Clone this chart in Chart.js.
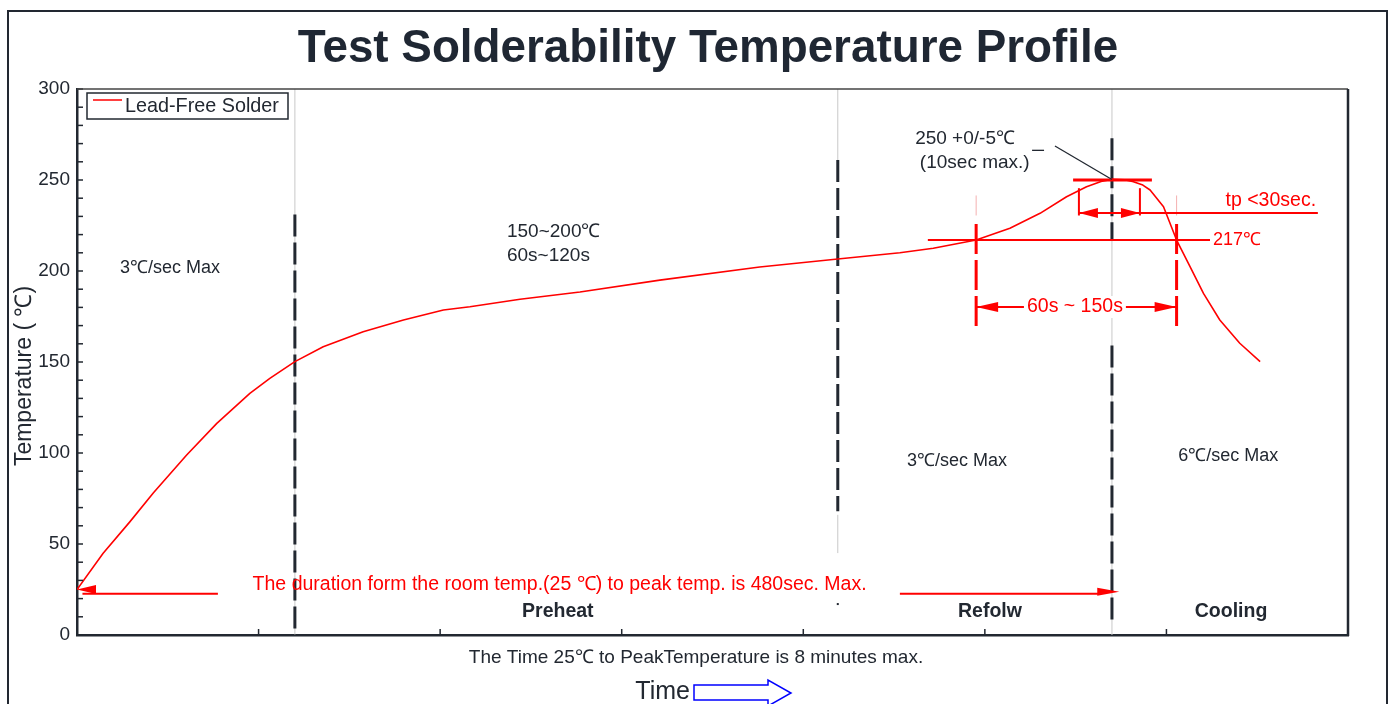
<!DOCTYPE html>
<html><head><meta charset="utf-8">
<script src="https://cdn.jsdelivr.net/npm/chart.js@4"></script>
<style>html,body{margin:0;padding:0;background:#fff;overflow:hidden}canvas{display:block}</style>
</head><body>
<canvas id="c" width="1391" height="704"></canvas>
<script>
// ---- data ----
const timeValues = [0, 7.2, 14.6, 21, 30.2, 38.5, 47.6, 53.1, 60, 67.8, 78.8, 89.9, 100.9, 108.2, 122, 138.5, 160.5, 188, 209.5, 226.6, 235.8, 247.6, 256.9, 265.2, 272.5, 278, 282, 285.1, 288.5, 290.9, 293.5, 295.5, 299.2, 302.8, 306.5, 310.2, 314.7, 320.2, 325.8];
const tempValues = [25, 44.9, 62.3, 78, 98.9, 116.3, 132.8, 141, 150.2, 158.4, 166.6, 173.1, 178.6, 180.4, 184.5, 188.5, 195, 202.2, 206.6, 210, 212.5, 217, 223.5, 231.7, 240.8, 246.3, 249.2, 250.4, 250.1, 249.1, 247.2, 244.5, 235.3, 217, 202.4, 187.7, 173.1, 160.3, 150.2];
const yTickValues = [0, 50, 100, 150, 200, 250, 300];
const xTickValues = [0, 50, 100, 150, 200, 250, 300, 350];
const phaseBoundaries = [60, 209.5, 285];
const reflowStart = 247.6, reflowEnd = 302.8;
const liquidusTemp = 217, peakTemp = 250, roomTemp = 25;

const DARK = '#222831', RED = '#ff0000';
const FONT = '"Liberation Sans", Arial, sans-serif';

const overlay = {
  id: 'overlay',
  beforeDatasetsDraw(chart) {
    const ctx = chart.ctx, xs = chart.scales.x, ys = chart.scales.y;
    const X = v => xs.getPixelForValue(v), Y = v => ys.getPixelForValue(v);
    const seg = (x1, y1, x2, y2, color, w, dash) => {
      ctx.save(); ctx.strokeStyle = color; ctx.lineWidth = w; ctx.setLineDash(dash || []);
      ctx.beginPath(); ctx.moveTo(X(x1), Y(y1)); ctx.lineTo(X(x2), Y(y2)); ctx.stroke(); ctx.restore();
    };
    const [b1, b2, b3] = phaseBoundaries;
    seg(b1, 300, b1, 0, '#c8c8c8', 1);
    seg(b2, 300, b2, 253, '#c8c8c8', 1);
    seg(b2, 66, b2, 45, '#c8c8c8', 1);
    seg(b3, 300, b3, 0, '#c8c8c8', 1);
    seg(b1, 231, b1, 0, DARK, 3, [22, 6]);
    seg(b2, 261, b2, 68, DARK, 3, [22, 6]);
    seg(b3, 273, b3, 217, DARK, 3, [22, 6]);
    seg(b3, 159, b3, 8, DARK, 3, [22, 6]);
    ctx.save(); ctx.fillStyle = DARK; ctx.fillRect(X(b2) - 1, Y(17) - 1, 2, 2); ctx.restore();
  },
  afterDatasetsDraw(chart) {
    const ctx = chart.ctx, xs = chart.scales.x, ys = chart.scales.y, ca = chart.chartArea;
    const X = v => xs.getPixelForValue(v), Y = v => ys.getPixelForValue(v);
    const seg = (x1, y1, x2, y2, color, w, dash) => {
      ctx.save(); ctx.strokeStyle = color; ctx.lineWidth = w; ctx.setLineDash(dash || []);
      ctx.beginPath(); ctx.moveTo(X(x1), Y(y1)); ctx.lineTo(X(x2), Y(y2)); ctx.stroke(); ctx.restore();
    };
    const head = (tx, ty, dir, len, half) => {
      ctx.save(); ctx.fillStyle = RED; ctx.beginPath();
      ctx.moveTo(tx, ty); ctx.lineTo(tx - dir * len, ty - half); ctx.lineTo(tx - dir * len, ty + half);
      ctx.closePath(); ctx.fill(); ctx.restore();
    };
    const text = (s, x, y, size, color, align, weight) => {
      ctx.save(); ctx.font = (weight || '') + ' ' + size + 'px ' + FONT; ctx.fillStyle = color;
      ctx.textAlign = align || 'left'; ctx.textBaseline = 'middle'; ctx.fillText(s, x, y); ctx.restore();
    };
    ctx.save(); ctx.strokeStyle = DARK; ctx.lineWidth = 1.5;
    for (let v = 0; v <= 300; v += 10) { ctx.beginPath(); ctx.moveTo(ca.left, Y(v)); ctx.lineTo(ca.left + 6, Y(v)); ctx.stroke(); }
    xTickValues.forEach(v => { ctx.beginPath(); ctx.moveTo(X(v), ca.bottom); ctx.lineTo(X(v), ca.bottom - 6); ctx.stroke(); });
    ctx.restore();
    ctx.save(); ctx.strokeStyle = '#444'; ctx.lineWidth = 1.5;
    ctx.beginPath(); ctx.moveTo(ca.left, ca.top); ctx.lineTo(ca.right, ca.top); ctx.stroke();
    ctx.strokeStyle = DARK; ctx.lineWidth = 2.5;
    ctx.beginPath(); ctx.moveTo(ca.right, ca.top); ctx.lineTo(ca.right, ca.bottom + 1); ctx.stroke();
    ctx.restore();

    seg(234.3, liquidusTemp, 312, liquidusTemp, RED, 2);
    text('217℃', X(312.8), Y(liquidusTemp), 18, RED, 'left');
    [reflowStart, reflowEnd].forEach(v => {
      seg(v, 241.5, v, 230.5, '#f4b0b0', 1);
      seg(v, 225.8, v, 167.5, RED, 3, [30, 6]);
    });
    const ay = 180.2;
    seg(reflowStart, ay, reflowEnd, ay, RED, 2);
    head(X(reflowStart), Y(ay), -1, 22, 5);
    head(X(reflowEnd), Y(ay), 1, 22, 5);
    ctx.save(); ctx.font = '19.5px ' + FONT; const tw = ctx.measureText('60s ~ 150s').width; ctx.restore();
    ctx.save(); ctx.fillStyle = '#fff'; ctx.fillRect(X(274.8) - tw / 2 - 3, Y(ay) - 11, tw + 6, 22); ctx.restore();
    text('60s ~ 150s', X(274.8), Y(ay), 19.5, RED, 'center');
    seg(274.3, peakTemp, 296, peakTemp, RED, 3);
    seg(275.9, 245.5, 275.9, 230.5, RED, 2);
    seg(292.7, 245.5, 292.7, 230.5, RED, 2);
    seg(275.9, 231.9, 341.7, 231.9, RED, 2);
    head(X(275.9), Y(231.9), -1, 19, 5);
    head(X(292.7), Y(231.9), 1, 19, 5);
    text('tp <30sec.', X(341.2), Y(238.5), 19.5, RED, 'right');
    seg(269.3, 268.7, 285, 250.3, DARK, 1.3);
    seg(263.0, 266.3, 266.3, 266.3, DARK, 1.3);
    text('250 +0/-5℃', X(230.8), Y(272.5), 19, DARK, 'left');
    text('(10sec max.)', X(232.1), Y(259.3), 19, DARK, 'left');
    const by = 23.2;
    seg(1.5, by - 0.5, 38.8, by - 0.5, RED, 2);
    head(X(0), Y(25), -1, 19, 4.5);
    seg(226.6, by - 0.5, 282, by - 0.5, RED, 2);
    head(X(287), Y(by + 0.6), 1, 22, 4);
    text('The duration form the room temp.(25 ℃) to peak temp. is 480sec. Max.', X(132.9), Y(27.7), 19.5, RED, 'center');
    text('3℃/sec Max', X(25.6), Y(201.6), 18, DARK, 'center');
    text('150~200℃', X(118.4), Y(221.4), 19, DARK, 'left');
    text('60s~120s', X(118.4), Y(208.2), 19, DARK, 'left');
    text('3℃/sec Max', X(242.3), Y(95.6), 18, DARK, 'center');
    text('6℃/sec Max', X(317), Y(98.4), 18, DARK, 'center');
    text('Preheat', X(132.4), Y(12.6), 19.5, DARK, 'center', 'bold');
    text('Refolw', X(251.4), Y(12.6), 19.5, DARK, 'center', 'bold');
    text('Cooling', X(317.8), Y(12.6), 19.5, DARK, 'center', 'bold');

    ctx.save(); ctx.strokeStyle = DARK; ctx.lineWidth = 1.5;
    ctx.strokeRect(ca.left + 10, ca.top + 4, 201, 26);
    ctx.strokeStyle = RED; ctx.lineWidth = 1.5;
    ctx.beginPath(); ctx.moveTo(ca.left + 16, ca.top + 11); ctx.lineTo(ca.left + 45, ca.top + 11); ctx.stroke();
    ctx.restore();
    text('Lead-Free Solder', ca.left + 48, ca.top + 17.5, 19.8, DARK, 'left');
  },
  afterDraw(chart) {
    const ctx = chart.ctx, ca = chart.chartArea;
    const text = (s, x, y, size, color, align, weight) => {
      ctx.save(); ctx.font = (weight || '') + ' ' + size + 'px ' + FONT; ctx.fillStyle = color;
      ctx.textAlign = align || 'left'; ctx.textBaseline = 'middle'; ctx.fillText(s, x, y); ctx.restore();
    };
    ctx.save(); ctx.strokeStyle = DARK; ctx.lineWidth = 2;
    ctx.strokeRect(8, 11, 1379, 720); ctx.restore();
    text('Test Solderability Temperature Profile', 708, 49, 45.8, '#1f2733', 'center', 'bold');
    ctx.save(); ctx.translate(25, 376); ctx.rotate(-Math.PI / 2);
    ctx.font = '23px ' + FONT; ctx.fillStyle = DARK; ctx.textAlign = 'center'; ctx.textBaseline = 'middle';
    ctx.fillText('Temperature ( ℃)', 0, 0); ctx.restore();
    text('The Time 25℃ to PeakTemperature is 8 minutes max.', 696, ca.bottom + 23, 19, DARK, 'center');
    text('Time', 690, ca.bottom + 57, 25, DARK, 'right');
    ctx.save(); ctx.strokeStyle = '#0000ff'; ctx.lineWidth = 1.5; ctx.beginPath();
    ctx.moveTo(694, 685); ctx.lineTo(768, 685); ctx.lineTo(768, 680); ctx.lineTo(791, 693);
    ctx.lineTo(768, 706); ctx.lineTo(768, 700); ctx.lineTo(694, 700); ctx.closePath(); ctx.stroke(); ctx.restore();
  }
};

new Chart(document.getElementById('c'), {
  type: 'line',
  data: {
    datasets: [{
      label: 'Lead-Free Solder',
      data: timeValues.map((t, i) => ({ x: t, y: tempValues[i] })),
      borderColor: RED, borderWidth: 1.6, pointRadius: 0, fill: false,
      tension: 0, borderJoinStyle: 'round'
    }]
  },
  options: {
    responsive: false, animation: false, devicePixelRatio: 1,
    layout: { padding: { left: 0, top: 89, right: 43, bottom: 0 } },
    plugins: { legend: { display: false }, title: { display: false }, tooltip: { enabled: false } },
    scales: {
      x: {
        type: 'linear', min: 0, max: 350,
        afterBuildTicks: s => { s.ticks = xTickValues.map(v => ({ value: v })); },
        afterFit: s => { s.height = 69; },
        ticks: { display: false },
        grid: { display: false, drawTicks: false },
        border: { display: true, color: DARK, width: 2.5 }
      },
      y: {
        min: 0, max: 300,
        afterBuildTicks: s => { s.ticks = yTickValues.map(v => ({ value: v })); },
        afterFit: s => { s.width = 77; },
        ticks: { color: DARK, font: { size: 19, family: FONT }, padding: 7 },
        grid: { display: false, drawTicks: false },
        border: { display: true, color: DARK, width: 2.5 }
      }
    }
  },
  plugins: [overlay]
});
</script>
</body></html>
